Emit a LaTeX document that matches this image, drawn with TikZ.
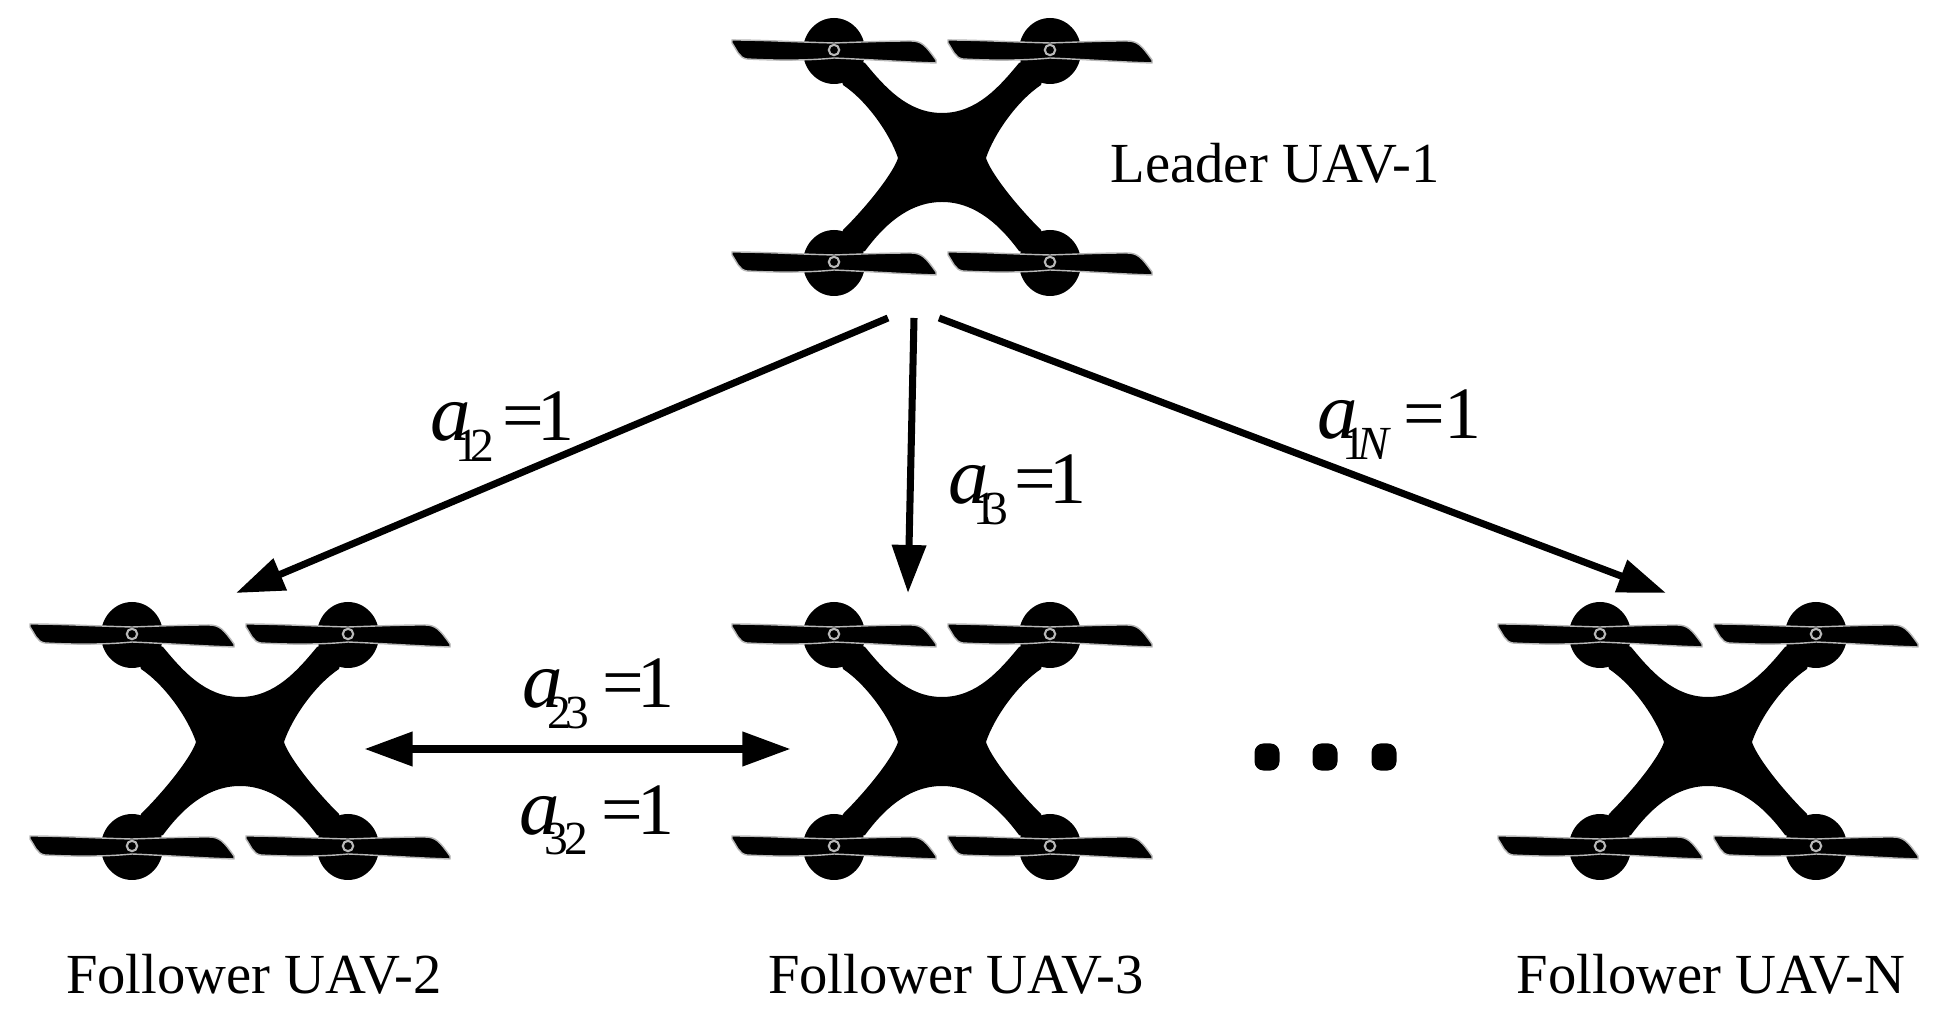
\documentclass[tikz,border=0pt]{standalone}
\usepackage{fontspec}
\setmainfont{Liberation Serif}
\usetikzlibrary{arrows.meta}
\definecolor{hubgray}{rgb}{.72,.72,.72}

\newcommand{\linkweight}[3]{{\fontsize{23}{24}\selectfont\itshape a}\kern-4.5pt\raisebox{-5.8pt}{\fontsize{13.5}{15}\selectfont #1}\kern#2=\kern#3 1}

\tikzset{
  blade/.style={fill=black,draw=hubgray,line width=.4pt},
  hubring/.style={draw=hubgray,fill=black,line width=.6pt},
  rotor/.pic={
    \fill (0,1) ellipse [x radius=31,y radius=33];
    \draw[blade] (-102,-10) .. controls (-70,-10) and (-40,-8) .. (0,-7)
      .. controls (30,-8) and (50,-9) .. (77,-9)
      .. controls (88,-9) and (92,-4) .. (102,10) -- (102,13)
      .. controls (70,12) and (45,10) .. (0,8)
      .. controls (-20,10) and (-50,11) .. (-87,9)
      .. controls (-95,8) and (-97,0) .. (-102,-7) -- cycle;
    \draw[hubring] (0,0) circle [radius=5.2];
  },
  uav/.pic={
    \fill (0,-43) .. controls (35,-43) and (58,-70) .. (77,-93) -- (108,-106) -- (99,-71)
      .. controls (75,-55) and (52,-22) .. (44,2)
      .. controls (48,15) and (70,45) .. (99,74) -- (108,106) -- (77,95)
      .. controls (60,72) and (35,46) .. (0,46)
      .. controls (-35,46) and (-60,72) .. (-77,95) -- (-108,106) -- (-99,74)
      .. controls (-70,45) and (-48,15) .. (-44,2)
      .. controls (-52,-22) and (-75,-55) .. (-99,-71) -- (-108,-106) -- (-77,-93)
      .. controls (-58,-70) and (-35,-43) .. (0,-43) -- cycle;
    \pic at (-108,-106) {rotor};
    \pic at (108,-106) {rotor};
    \pic at (-108,106) {rotor};
    \pic at (108,106) {rotor};
  },
  namelabel/.style={font=\fontsize{16.1}{18}\selectfont,inner sep=0pt},
  weightlabel/.style={font=\fontsize{21}{24}\selectfont,inner sep=0pt,anchor=base west},
  link/.style={line width=2pt,-{Triangle[length=4.8mm,width=3.3mm]}},
  twolink/.style={line width=2pt,{Triangle[length=4.8mm,width=3.3mm]}-{Triangle[length=4.8mm,width=3.3mm]}},
  dotbox/.style={fill=black,rounded corners=.9mm,minimum width=2.5mm,minimum height=2.7mm,inner sep=0pt}
}

\begin{document}
\begin{tikzpicture}[x=0.01cm,y=-0.01cm]
   \useasboundingbox (0,0) rectangle (1942,1019);

   \pic (uav1) at (942,156) {uav};
   \pic (uav2) at (240,740) {uav};
   \pic (uav3) at (942,740) {uav};
   \pic (uavN) at (1708,740) {uav};

   \node[namelabel] (name1) at (1275,163) {Leader UAV-1};
   \node[namelabel] (name2) at (254,974) {Follower UAV-2};
   \node[namelabel] (name3) at (956,974) {Follower UAV-3};
   \node[namelabel] (nameN) at (1711,974) {Follower UAV-N};

   \coordinate (lead2) at (888,318);
   \coordinate (lead3) at (914,318);
   \coordinate (leadN) at (939,318);
   \coordinate (top2) at (236,593);
   \coordinate (top3) at (908,593);
   \coordinate (topN) at (1666,593);
   \coordinate (side2) at (364.5,749);
   \coordinate (side3) at (790.5,749);

   \draw[link] (lead2) -- (top2);
   \draw[link] (lead3) -- (top3);
   \draw[link] (leadN) -- (topN);
   \draw[twolink] (side2) -- (side3);

   \node[weightlabel] (w12) at (430,441) {\linkweight{1\kern-2.4pt 2}{2.2pt}{-1.7pt}};
   \node[weightlabel] (w13) at (948,504) {\linkweight{1\kern-3.6pt 3}{1.7pt}{-1.7pt}};
   \node[weightlabel] (w1N) at (1317,439) {\linkweight{1\kern-2.4pt \itshape N}{4.1pt}{-.3pt}};
   \node[weightlabel] (w23) at (522,708) {\linkweight{2\kern-1.5pt 3}{3.6pt}{-1.7pt}};
   \node[weightlabel] (w32) at (519,834) {\linkweight{3\kern-1.1pt 2}{3.8pt}{-1.7pt}};

   \node[dotbox] (dot1) at (1267,757) {};
   \node[dotbox] (dot2) at (1325,757) {};
   \node[dotbox] (dot3) at (1384,757) {};
\end{tikzpicture}
\end{document}
